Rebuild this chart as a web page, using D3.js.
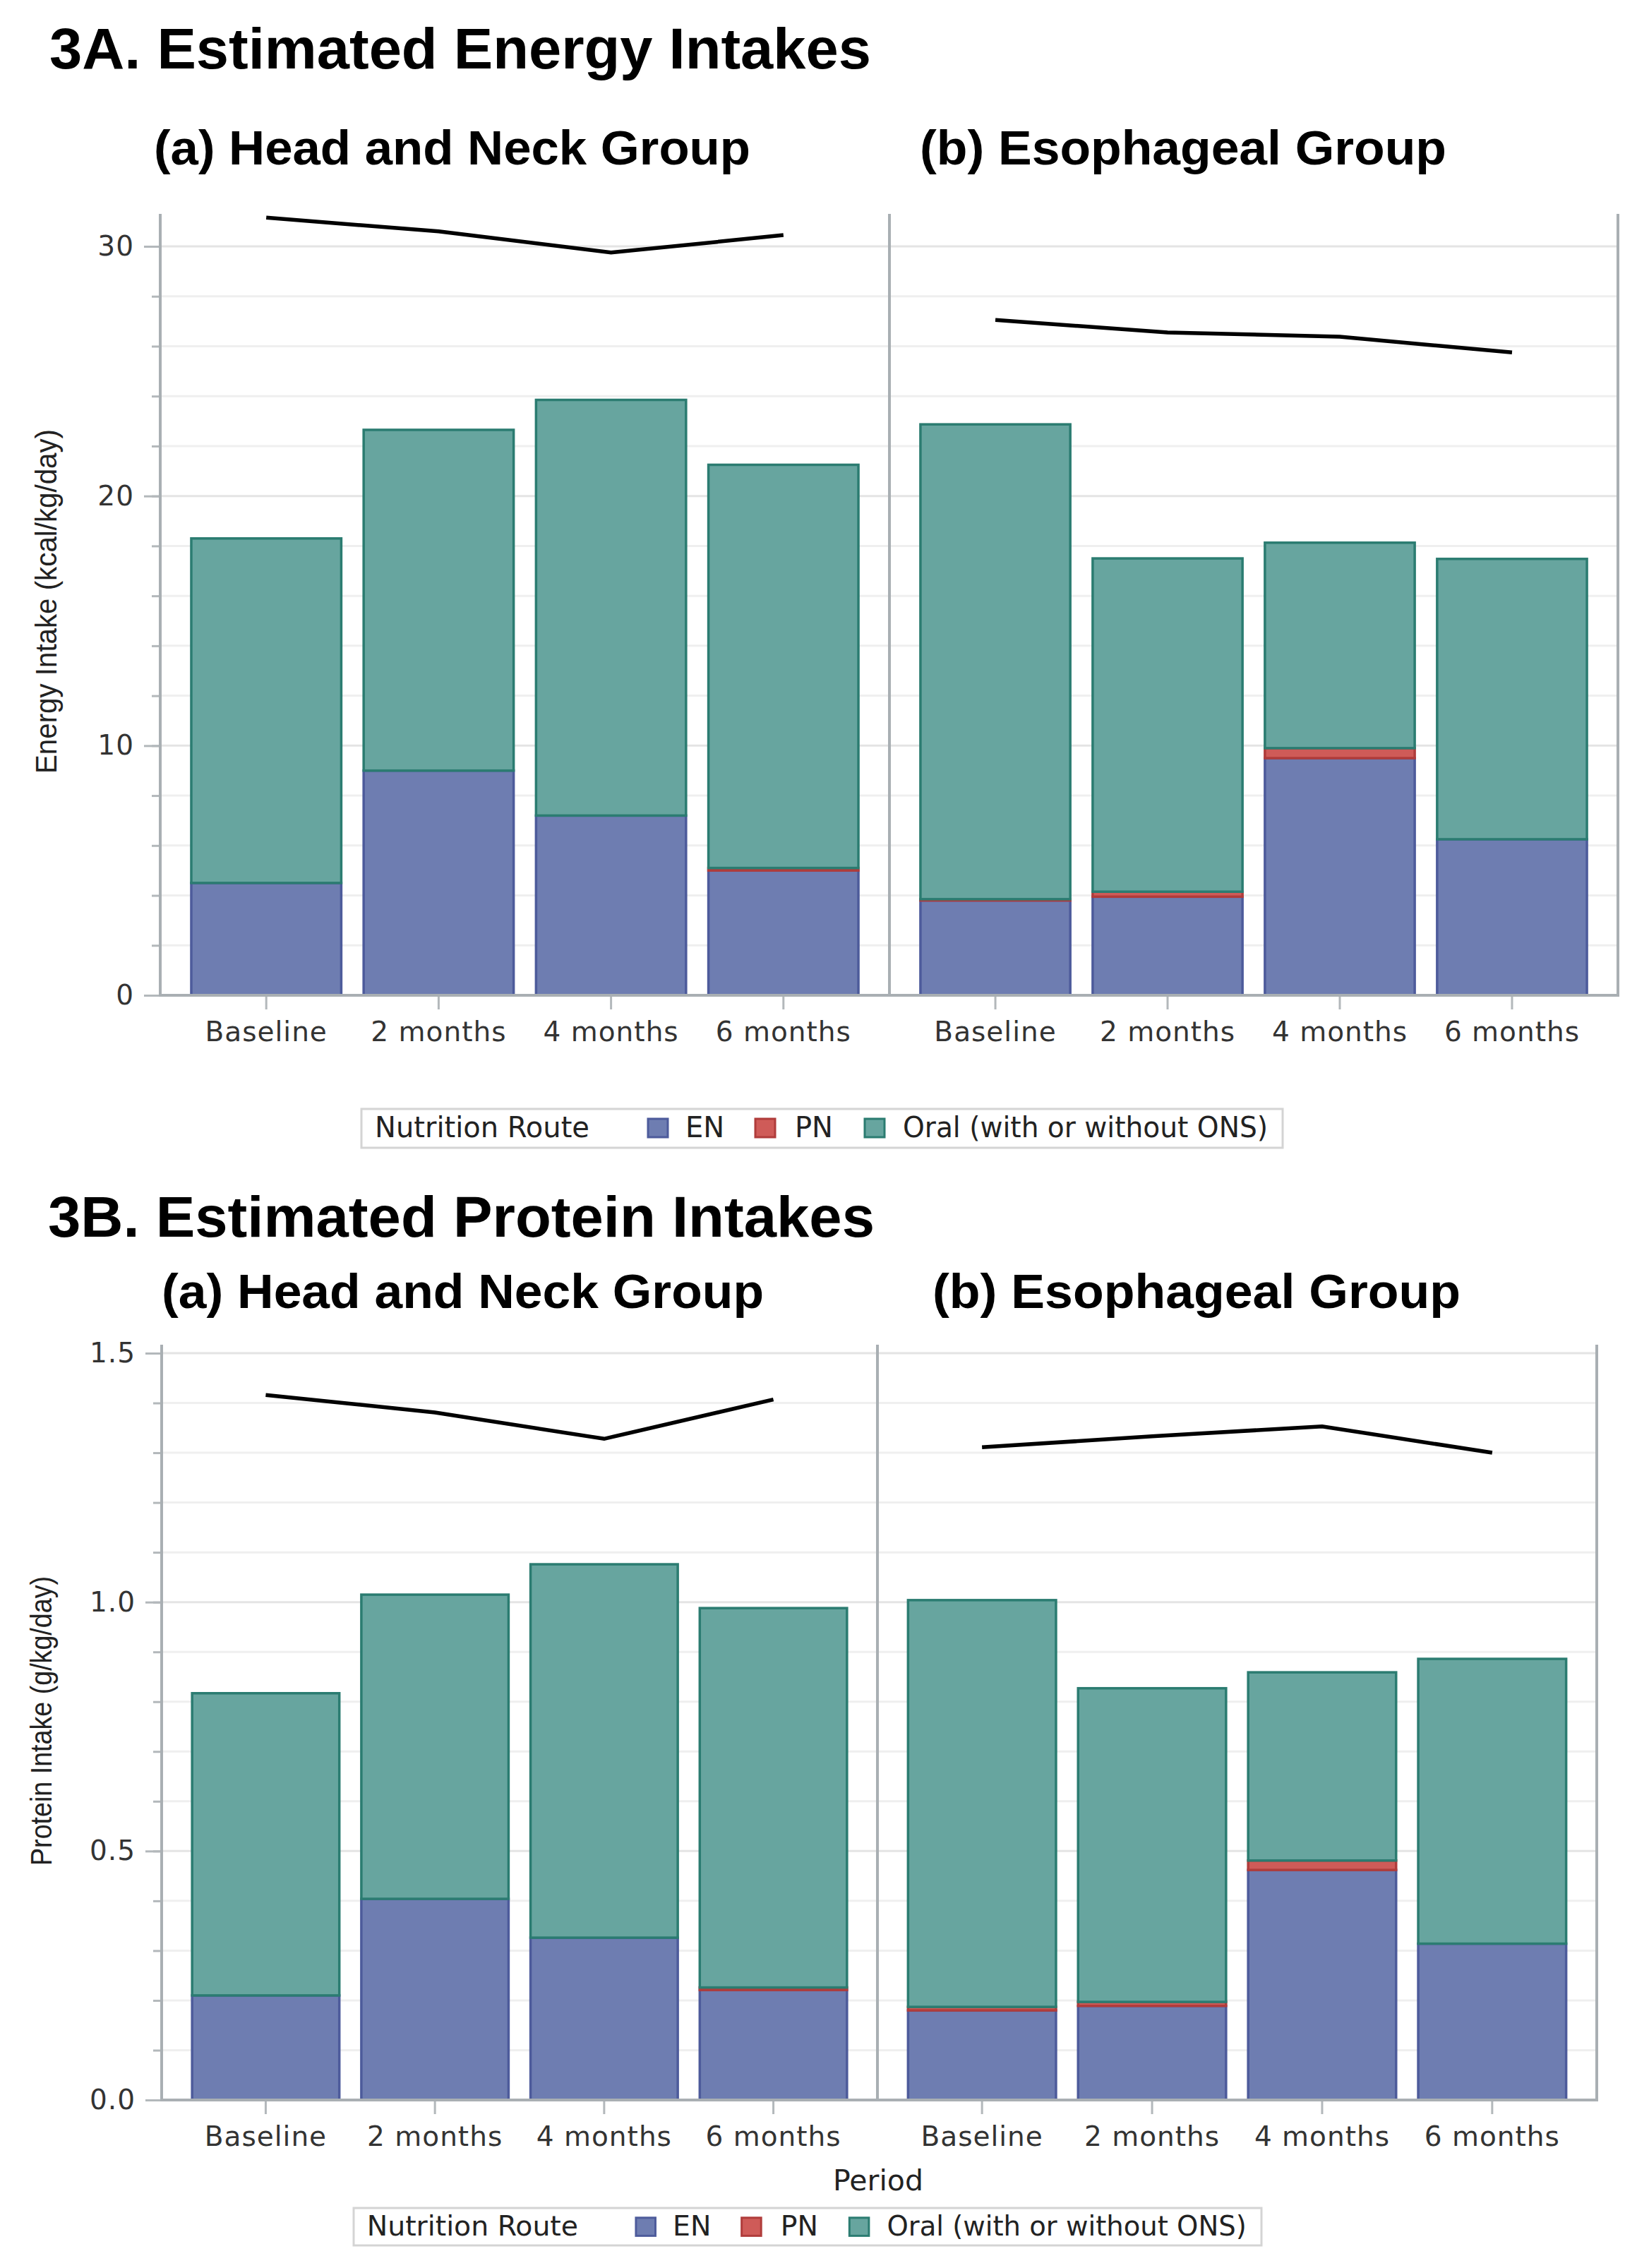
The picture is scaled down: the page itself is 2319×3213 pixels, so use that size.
<!DOCTYPE html>
<html>
  <body>
    <script src="https://d3js.org/d3.v7.min.js" charset="utf-8"></script>
    <style>
      body{ margin: 0; background: #fff;}
      svg{ display: block;}
      .tick text{ font-family: 'DejaVu Sans', sans-serif; fill: #333; letter-spacing: 1px;}
      .title{ font-family: 'Liberation Sans', Arial, sans-serif; font-weight: bold; fill: #000;}
      .ytitle{ font-family: 'Liberation Sans', Arial, sans-serif; fill: #222;}
      .legend text, .xtitle{ font-family: 'DejaVu Sans', sans-serif; fill: #222;}
    </style>
    <script>
var W = 2319, H = 3213
var periods = ['Baseline', '2 months', '4 months', '6 months']
var routes = ['EN', 'PN', 'Oral']
var routeLabels = ['EN', 'PN', 'Oral (with or without ONS)']
var fills = {EN: '#6e7db1', PN: '#cf5b58', Oral: '#67a59f'}
var strokes = {EN: '#4d5b9b', PN: '#b03c3b', Oral: '#2b7c71'}

// 3A energy, kcal/kg/day
var energyEN_HN = [4.5, 9.0, 7.2, 5.0]
var energyPN_HN = [0, 0, 0, 0.1]
var energyOral_HN = [13.8, 13.65, 16.65, 16.15]
var energyLine_HN = [31.15, 30.6, 29.75, 30.45]
var energyEN_ES = [3.8, 3.95, 9.5, 6.25]
var energyPN_ES = [0.05, 0.2, 0.4, 0]
var energyOral_ES = [19.02, 13.35, 8.23, 11.23]
var energyLine_ES = [27.05, 26.55, 26.38, 25.75]
var energyMajor = [0, 10, 20, 30]
var energyLabels = ['0', '10', '20', '30']
var energyMinor = d3.range(0, 31, 2)

// 3B protein, g/kg/day
var proteinEN_HN = [0.21, 0.404, 0.326, 0.221]
var proteinPN_HN = [0, 0, 0, 0.005]
var proteinOral_HN = [0.607, 0.611, 0.75, 0.762]
var proteinLine_HN = [1.416, 1.381, 1.328, 1.407]
var proteinEN_ES = [0.18, 0.189, 0.462, 0.314]
var proteinPN_ES = [0.007, 0.008, 0.019, 0]
var proteinOral_ES = [0.817, 0.63, 0.378, 0.572]
var proteinLine_ES = [1.311, 1.333, 1.353, 1.3]
var proteinMajor = [0, 0.5, 1.0, 1.5]
var proteinLabels = ['0.0', '0.5', '1.0', '1.5']
var proteinMinor = d3.range(0, 16).map(function(i){ return i / 10 })

var svg = d3.select('body').append('svg').attr('width', W).attr('height', H)
var axisColor = '#a9afb3'

function title(t, x, y, size, len){
  svg.append('text').attr('class', 'title').text(t)
    .attr('x', x).attr('y', y).style('font-size', size + 'px')
    .attr('textLength', len).attr('lengthAdjust', 'spacingAndGlyphs')
}

function drawChart(c){
  var g = svg.append('g')
  var y = d3.scaleLinear().domain([0, c.major[c.major.length - 1]]).range([c.base, c.topTick])
  var left = c.panels[0].x0, right = c.panels[1].x1

  // grid
  g.selectAll('.grid').data(c.minor).enter().append('line')
    .attr('x1', left).attr('x2', right)
    .attr('y1', function(d){ return y(d) }).attr('y2', function(d){ return y(d) })
    .attr('stroke', function(d){ return c.major.indexOf(d) >= 0 ? '#e4e4e4' : '#efefef' })
    .attr('stroke-width', 3)

  c.panels.forEach(function(p){
    var x = d3.scaleBand().domain(periods).range([p.x0, p.x1])
      .paddingInner(0.13).paddingOuter(0.18)
    var rows = periods.map(function(d, i){
      return {period: d, EN: p.en[i], PN: p.pn[i], Oral: p.oral[i]}
    })
    var series = d3.stack().keys(routes)(rows)
    g.selectAll(null).data(series).enter().append('g')
      .attr('fill', function(s){ return fills[s.key] })
      .attr('stroke', function(s){ return strokes[s.key] })
      .attr('stroke-width', 3.5)
      .selectAll('rect').data(function(s){ return s.filter(function(d){ return d[1] - d[0] > 0 }) })
      .enter().append('rect')
      .attr('x', function(d){ return x(d.data.period) })
      .attr('width', x.bandwidth())
      .attr('y', function(d){ return y(d[1]) })
      .attr('height', function(d){ return y(d[0]) - y(d[1]) })

    var line = d3.line()
      .x(function(d, i){ return x(periods[i]) + x.bandwidth() / 2 })
      .y(function(d){ return y(d) })
    g.append('path').datum(p.line).attr('d', line)
      .attr('fill', 'none').attr('stroke', '#000').attr('stroke-width', 5.5)

    var xAxis = g.append('g').attr('transform', 'translate(0,' + c.base + ')')
      .call(d3.axisBottom(x).tickSize(20).tickPadding(17))
    xAxis.select('.domain').remove()
    xAxis.selectAll('.tick line').attr('stroke', '#b3b8bb').attr('stroke-width', 3)
    xAxis.selectAll('.tick text').style('font-size', '39px')
  })

  // y axis, minor then major ticks
  var minorAxis = g.append('g').attr('transform', 'translate(' + left + ',0)')
    .call(d3.axisLeft(y).tickValues(c.minor).tickSize(12).tickFormat(''))
  minorAxis.select('.domain').remove()
  minorAxis.selectAll('.tick line').attr('stroke', '#b3b8bb').attr('stroke-width', 3)
  var majorAxis = g.append('g').attr('transform', 'translate(' + left + ',0)')
    .call(d3.axisLeft(y).tickValues(c.major).tickSize(23).tickPadding(14)
      .tickFormat(function(d, i){ return c.labels[i] }))
  majorAxis.select('.domain').remove()
  majorAxis.selectAll('.tick line').attr('stroke', '#b3b8bb').attr('stroke-width', 3)
  majorAxis.selectAll('.tick text').style('font-size', '39px')

  // frame
  var vx = [c.panels[0].x0, c.panels[1].x0, c.panels[1].x1]
  g.selectAll('.frame').data(vx).enter().append('line')
    .attr('x1', function(d){ return d }).attr('x2', function(d){ return d })
    .attr('y1', c.top).attr('y2', c.base + 2)
    .attr('stroke', axisColor).attr('stroke-width', 4)
  g.append('line').attr('x1', left).attr('x2', right + 2)
    .attr('y1', c.base).attr('y2', c.base)
    .attr('stroke', axisColor).attr('stroke-width', 4)

  svg.append('text').attr('class', 'ytitle').text(c.yTitle)
    .attr('transform', 'translate(' + c.yTitleX + ',' + c.yTitleY + ') rotate(-90)')
    .attr('text-anchor', 'middle').attr('dominant-baseline', 'central')
    .style('font-size', '42px')
    .attr('textLength', c.yTitleLen).attr('lengthAdjust', 'spacingAndGlyphs')
}

function drawLegend(bx, by, bw, bh, k){
  var g = svg.append('g').attr('class', 'legend')
    .attr('transform', 'translate(' + bx + ',' + by + ') scale(' + k + ')')
  g.append('rect').attr('x', 0).attr('y', 0).attr('width', bw / k).attr('height', bh / k)
    .attr('fill', '#fff').attr('stroke', '#d4d4d4').attr('stroke-width', 3)
  var base = 40
  g.append('text').text('Nutrition Route').attr('x', 19).attr('y', base).style('font-size', '40px')
  var swX = [406, 558, 713], txX = [459, 614, 767]
  routes.forEach(function(r, i){
    g.append('rect').attr('x', swX[i]).attr('y', base - 26).attr('width', 28).attr('height', 26)
      .attr('fill', fills[r]).attr('stroke', strokes[r]).attr('stroke-width', 3)
    var t = g.append('text').text(routeLabels[i]).attr('x', txX[i]).attr('y', base)
      .style('font-size', '40px')
    if (r === 'Oral') t.attr('textLength', 517).attr('lengthAdjust', 'spacingAndGlyphs')
  })
}

// 3A
title('3A. Estimated Energy Intakes', 70, 97, 82, 1164)
title('(a) Head and Neck Group', 218, 233, 68, 845)
title('(b) Esophageal Group', 1303, 233, 68, 746)
drawChart({
  base: 1410, topTick: 349, top: 303,
  major: energyMajor, labels: energyLabels, minor: energyMinor,
  panels: [
    {x0: 227, x1: 1260, en: energyEN_HN, pn: energyPN_HN, oral: energyOral_HN, line: energyLine_HN},
    {x0: 1260, x1: 2292, en: energyEN_ES, pn: energyPN_ES, oral: energyOral_ES, line: energyLine_ES}
  ],
  yTitle: 'Energy Intake (kcal/kg/day)', yTitleX: 65, yTitleY: 852, yTitleLen: 488
})
drawLegend(512, 1571, 1305, 55, 1)

// 3B
title('3B. Estimated Protein Intakes', 68, 1752, 82, 1171)
title('(a) Head and Neck Group', 229, 1853, 68, 853)
title('(b) Esophageal Group', 1321, 1853, 68, 748)
drawChart({
  base: 2975, topTick: 1917, top: 1905,
  major: proteinMajor, labels: proteinLabels, minor: proteinMinor,
  panels: [
    {x0: 229, x1: 1243, en: proteinEN_HN, pn: proteinPN_HN, oral: proteinOral_HN, line: proteinLine_HN},
    {x0: 1243, x1: 2262, en: proteinEN_ES, pn: proteinPN_ES, oral: proteinOral_ES, line: proteinLine_ES}
  ],
  yTitle: 'Protein Intake (g/kg/day)', yTitleX: 58, yTitleY: 2438, yTitleLen: 410
})
svg.append('text').attr('class', 'xtitle').text('Period')
  .attr('x', 1244).attr('y', 3103).attr('text-anchor', 'middle').style('font-size', '41px')
drawLegend(501, 3128, 1286, 53, 0.985)
    </script>
  </body>
</html>
